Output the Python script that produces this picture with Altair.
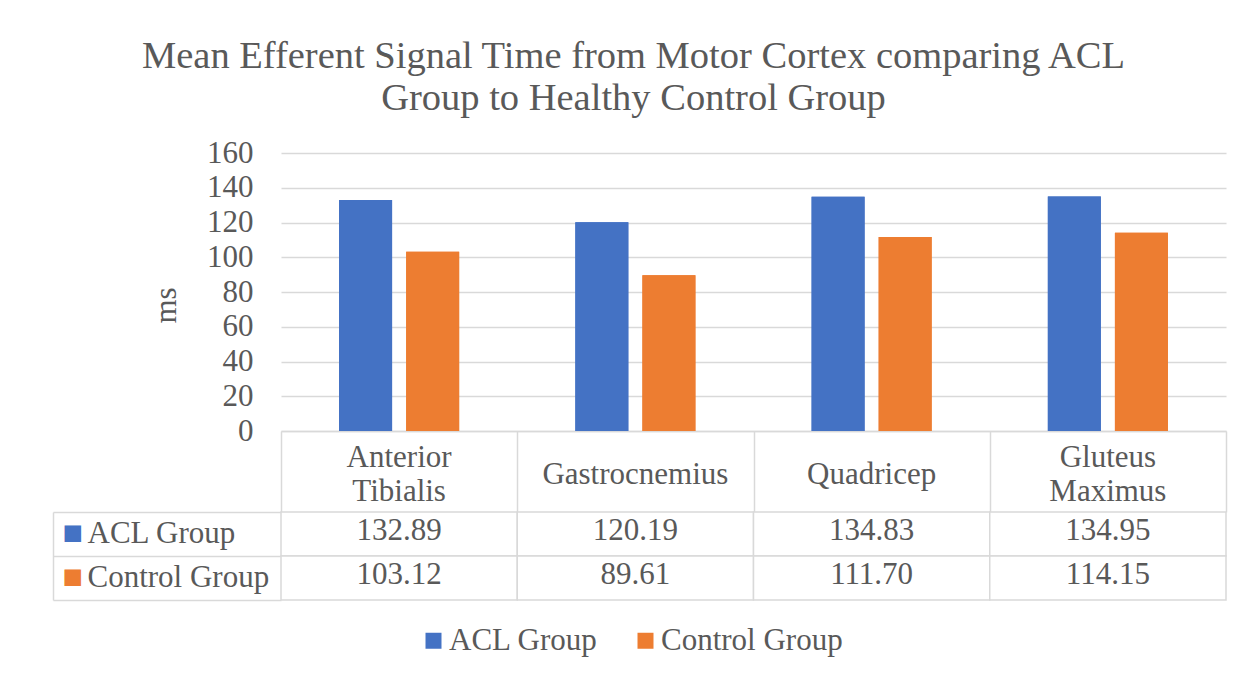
import altair as alt
import pandas as pd

categories = ["Anterior Tibialis", "Gastrocnemius", "Quadricep", "Gluteus Maximus"]
groups = ["ACL Group", "Control Group"]
acl_values = [132.89, 120.19, 134.83, 134.95]
control_values = [103.12, 89.61, 111.70, 114.15]
title_lines = ["Mean Efferent Signal Time from Motor Cortex comparing ACL",
               "Group to Healthy Control Group"]
y_ticks = [0, 20, 40, 60, 80, 100, 120, 140, 160]
colors = ["#4472C4", "#ED7D31"]

rows = []
for g, vals in zip(groups, [acl_values, control_values]):
    for c, v in zip(categories, vals):
        rows.append({"category": c, "group": g, "value": v})
df = pd.DataFrame(rows)

FONT = "Liberation Serif"
TXT = "#595959"
LINE = "#D9D9D9"
FS = 31

x_scale = alt.Scale(domain=categories, paddingInner=0, paddingOuter=0)
off_scale = alt.Scale(domain=groups, paddingInner=0.21, paddingOuter=0.866)
y_scale = alt.Scale(domain=[0, 160], nice=False)
color_scale = alt.Scale(domain=groups, range=colors)

axis_labels = alt.Axis(
    orient="bottom", labelExpr="split(datum.label, ' ')", labelFont=FONT,
    labelFontSize=FS, labelColor=TXT, labelLineHeight=34,
    labelBaseline={"condition": {"test": "indexof(datum.label, ' ') >= 0", "value": "middle"},
                   "value": "line-top"},
    labelPadding=26, labelAngle=0, labelLimit=400, ticks=False, domain=True,
    domainColor=LINE, domainWidth=1.5, title="",
)
axis_ticks = alt.Axis(
    orient="bottom", labels=False, domain=False, ticks=True, tickBand="extent",
    tickSize=81, tickColor=LINE, tickWidth=1.5, title="",
)
y_axis = alt.Axis(
    values=y_ticks, grid=True, gridColor=LINE, gridWidth=1.5, domain=False,
    ticks=False, labelFont=FONT, labelFontSize=FS, labelColor=TXT, labelPadding=28,
    title="ms", titleFont=FONT, titleFontSize=FS, titleColor=TXT,
    titleFontWeight="normal", titlePadding=24, titleY=152,
)
legend = alt.Legend(
    orient="none", legendX=137, legendY=472, direction="horizontal", title=None,
    symbolType="square", symbolSize=256, symbolStrokeWidth=0, labelFont=FONT,
    labelFontSize=FS, labelColor=TXT, labelOffset=0, columnPadding=32, labelLimit=400,
)

bars = alt.Chart(df).mark_bar().encode(
    x=alt.X("category:N", sort=categories, scale=x_scale, axis=axis_labels),
    xOffset=alt.XOffset("group:N", sort=groups, scale=off_scale),
    y=alt.Y("value:Q", scale=y_scale, axis=y_axis),
    color=alt.Color("group:N", scale=color_scale, legend=legend),
)
bars2 = alt.Chart(df).mark_bar().encode(
    x=alt.X("category:N", sort=categories, scale=x_scale, axis=axis_ticks),
    xOffset=alt.XOffset("group:N", sort=groups, scale=off_scale),
    y=alt.Y("value:Q", scale=y_scale, axis=y_axis),
    color=alt.Color("group:N", scale=color_scale, legend=legend),
)
top = alt.layer(bars, bars2).resolve_axis(x="independent").properties(width=945, height=278)

y_tab = alt.Scale(domain=groups, paddingInner=0, paddingOuter=0)
xt = alt.X("category:N", sort=categories, scale=x_scale, axis=None)


def ty(axis):
    return alt.Y("group:N", sort=groups, scale=y_tab, axis=axis)


cells = alt.Chart(df).mark_rect(fill="white", stroke=LINE, strokeWidth=1.5).encode(
    x=xt,
    y=ty(alt.Axis(orient="left", labelAlign="left", labelPadding=194, labelFont=FONT,
                  labelFontSize=FS, labelColor=TXT, labelLimit=400, ticks=False,
                  domain=False, title="")),
)
texts = alt.Chart(df).mark_text(font=FONT, fontSize=FS, color=TXT, baseline="middle", dy=-3).encode(
    x=xt,
    y=ty(alt.Axis(orient="left", labels=False, domain=False, ticks=True, tickBand="extent",
                  tickSize=228, tickColor=LINE, tickWidth=1.5, title="")),
    text=alt.Text("value:Q", format=".2f"),
)
edge = alt.Chart(df).mark_rect(opacity=0).encode(
    x=xt,
    y=ty(alt.Axis(orient="left", labels=False, ticks=False, domain=True, domainColor=LINE,
                  domainWidth=1.5, offset=228, title="")),
)
swatch = alt.Chart(df).mark_rect(opacity=0).encode(
    x=xt,
    y=ty(alt.Axis(orient="left", labelExpr="'■'",
                  labelColor={"condition": {"test": "datum.value === 'ACL Group'", "value": colors[0]},
                              "value": colors[1]},
                  labelAlign="left", labelPadding=219, labelFont=FONT, labelFontSize=34,
                  ticks=False, domain=False, title="")),
)
table = alt.layer(cells, texts, edge, swatch).resolve_axis(y="independent").properties(
    width=945, height=88)

chart = alt.vconcat(top, table, spacing=81, bounds="flush").properties(
    title=alt.TitleParams(text=title_lines, font=FONT, fontSize=38.5, fontWeight="normal",
                          color=TXT, lineHeight=42, anchor="middle", offset=19, dx=-6),
    padding={"left": 44, "top": 28, "right": 10, "bottom": 10},
).configure_view(strokeWidth=0)

chart.save("out.html", embed_options={"renderer": "svg", "actions": False})
